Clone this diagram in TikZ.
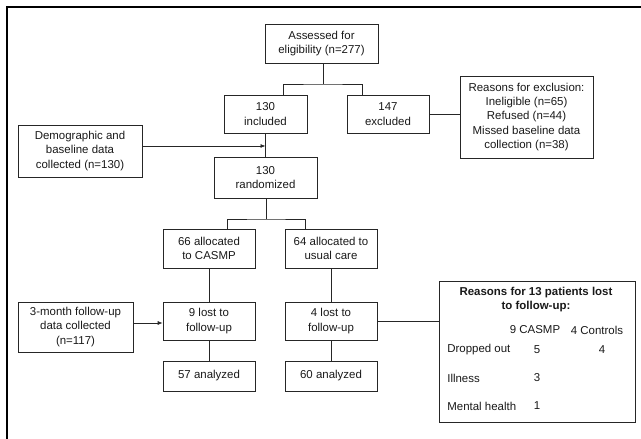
\documentclass[tikz,border=0pt]{standalone}
\usepackage{fontspec}
\setmainfont{Liberation Sans}
\usetikzlibrary{arrows.meta}

\begin{document}
\begin{tikzpicture}[x=1bp,y=-1bp,line width=0.7pt,draw=black!85,text=black!90,
  >={Latex[length=5pt,width=4pt]},
  box/.style={draw,rectangle,align=center,inner sep=1pt,
    font=\fontsize{11.5}{14.5}\selectfont},
  cell/.style={inner sep=0pt,font=\fontsize{11.5}{14.5}\selectfont}]
  \useasboundingbox (0,0) rectangle (641,439);
  % outer frame (top and left only)
  \draw[line width=1.2pt,black] (641,7) -- (7,7) -- (7,439);

  % boxes
  \node[box,minimum width=113bp,minimum height=39bp] (assess) at (321.5,43.5) {Assessed for\\eligibility (n=277)};
  \node[box,minimum width=83bp,minimum height=38bp]  (incl)   at (265.5,114)  {130\\included};
  \node[box,minimum width=82bp,minimum height=38bp]  (excl)   at (388,114)    {147\\excluded};
  \node[box,minimum width=133bp,minimum height=82bp] (exclwhy) at (526.5,117) {Reasons for exclusion:\\Ineligible (n=65)\\Refused (n=44)\\Missed baseline data\\collection (n=38)};
  \node[box,minimum width=124bp,minimum height=52bp] (demog)  at (80,151)     {Demographic and\\baseline data\\collected (n=130)};
  \node[box,minimum width=103bp,minimum height=41bp] (rand)   at (265.5,177.5) {130\\randomized};
  \node[box,minimum width=92bp,minimum height=39bp]  (casmp)  at (209,248.5)  {66 allocated\\to CASMP};
  \node[box,minimum width=92bp,minimum height=39bp]  (usual)  at (331,248.5)  {64 allocated to\\usual care};
  \node[box,minimum width=115bp,minimum height=50bp] (followup) at (75.5,327) {3-month follow-up\\data collected\\(n=117)};
  \node[box,minimum width=92bp,minimum height=38bp]  (lostA)  at (209,321)    {9 lost to\\follow-up};
  \node[box,minimum width=92bp,minimum height=38bp]  (lostB)  at (331,321)    {4 lost to\\follow-up};
  \node[box,minimum width=92bp,minimum height=30bp]  (anA)    at (209,376)    {57 analyzed};
  \node[box,minimum width=92bp,minimum height=30bp]  (anB)    at (331,376)    {60 analyzed};
  \node[box,minimum width=196bp,minimum height=141bp] (lostwhy) at (537,351.5) {};

  % table of reasons for loss to follow-up
  \node[cell,align=center,font=\fontsize{11.5}{14.5}\selectfont\bfseries] (losttitle) at (536,299.5) {Reasons for 13 patients lost\\to follow-up:};
  \node[cell] (hdA)   at (535,330) {9 CASMP};
  \node[cell] (hdB)   at (597,330) {4 Controls};
  \node[cell,anchor=west] (rowA) at (447,350) {Dropped out};
  \node[cell] (rowAa) at (537,350) {5};
  \node[cell] (rowAb) at (602,350) {4};
  \node[cell,anchor=west] (rowB) at (447,378) {Illness};
  \node[cell] (rowBa) at (537,378) {3};
  \node[cell,anchor=west] (rowC) at (447,406) {Mental health};
  \node[cell] (rowCa) at (537,406) {1};

  % connectors
  \coordinate (split1) at (323,84);
  \coordinate (split2) at (266,219);
  \draw (assess.south -| split1) -- (split1);
  \draw ([xshift=17.5bp]incl.north) |- (split1) -| ([xshift=-26bp]excl.north);
  \draw (excl.east) -- (excl.east -| exclwhy.west);
  \draw (incl.south) -- (rand.north);
  \draw[->] ([yshift=5bp]demog.east) -- ([yshift=5bp]demog.east -| incl.south);
  \draw (rand.south -| split2) -- (split2);
  \draw ([xshift=18bp]casmp.north) |- (split2) -| ([xshift=-26bp]usual.north);
  \draw (casmp.south) -- (lostA.north);
  \draw (usual.south) -- (lostB.north);
  \draw[->] ([yshift=4bp]followup.east) -- ([yshift=4bp]followup.east -| lostA.west);
  \draw (lostA.south) -- (anA.north);
  \draw (lostB.south) -- (anB.north);
  \draw (lostB.east) -- (lostB.east -| lostwhy.west);
\end{tikzpicture}
\end{document}
